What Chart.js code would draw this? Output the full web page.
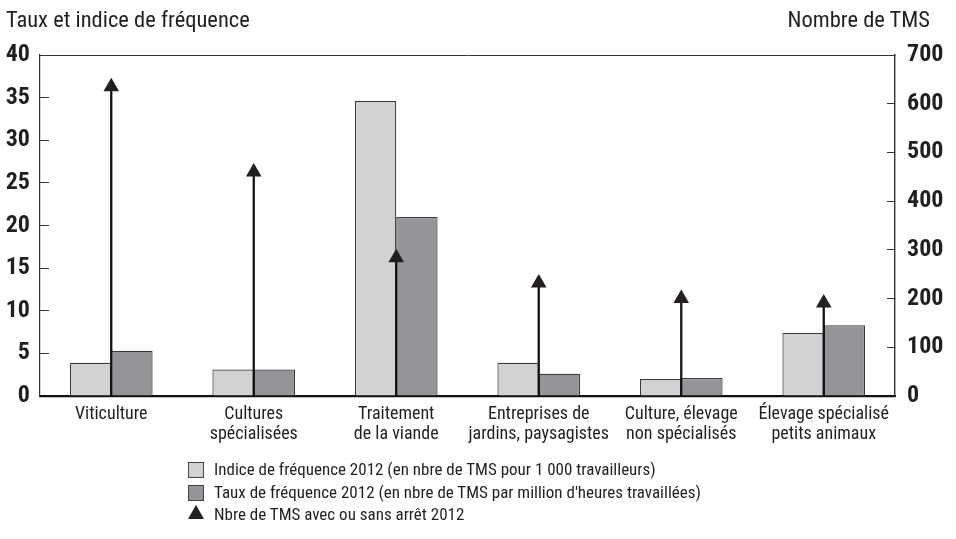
<!DOCTYPE html>
<html>
<head>
<meta charset="utf-8">
<script src="https://cdn.jsdelivr.net/npm/chart.js@4"></script>
<style>
  html, body { margin: 0; padding: 0; background: #fff; }
  #wrap { position: relative; width: 956px; height: 539px; overflow: hidden; }
  canvas { position: absolute; left: 0; top: 0; }
  .txt { position: absolute; font-family: 'Roboto Condensed', 'Liberation Sans', sans-serif; color: #231f20; white-space: nowrap; line-height: 1; }
  .box { position: absolute; width: 16px; height: 16px; box-sizing: border-box; border: 1px solid #444; }
  .tri { position: absolute; width: 0; height: 0; border-left: 8px solid transparent; border-right: 8px solid transparent; border-bottom: 14px solid #231f20; }
</style>
</head>
<body>
<div id="wrap">
  <canvas id="c" width="956" height="539"></canvas>
  <div class="txt" style="left:6px; top:8px; font-size:22.5px;">Taux et indice de fréquence</div>
  <div class="txt" style="right:26px; top:8px; font-size:22.5px;">Nombre de TMS</div>
  <div class="box" style="left:188px; top:462px; background:#d1d2d4;"></div>
  <div class="txt" style="left:214px; top:461px; font-size:17px;" id="lg1"></div>
  <div class="box" style="left:188px; top:485px; background:#939598;"></div>
  <div class="txt" style="left:214px; top:484px; font-size:17px;" id="lg2"></div>
  <div class="tri" style="left:188px; top:505px;"></div>
  <div class="txt" style="left:214px; top:506px; font-size:17px;" id="lg3"></div>
</div>
<script>
// ---- Data ----
const categories = [
  'Viticulture',
  ['Cultures', 'spécialisées'],
  ['Traitement', 'de la viande'],
  ['Entreprises de', 'jardins, paysagistes'],
  ['Culture, élevage', 'non spécialisés'],
  ['Élevage spécialisé', 'petits animaux']
];
const indiceFrequence = [3.9, 3.1, 34.6, 3.9, 2.0, 7.4];
const tauxFrequence = [5.3, 3.1, 21.0, 2.6, 2.1, 8.3];
const nombreTMS = [635, 460, 284, 232, 200, 191];
const leftAxisMax = 40;
const leftAxisStep = 5;
const rightAxisMax = 700;
const rightAxisStep = 100;
const legendLabels = [
  'Indice de fréquence 2012 (en nbre de TMS pour 1 000 travailleurs)',
  "Taux de fréquence 2012 (en nbre de TMS par million d'heures travaillées)",
  'Nbre de TMS avec ou sans arrêt 2012'
];

document.getElementById('lg1').textContent = legendLabels[0];
document.getElementById('lg2').textContent = legendLabels[1];
document.getElementById('lg3').textContent = legendLabels[2];

const FONT = "'Roboto Condensed', 'Liberation Sans', sans-serif";

const topBorder = {
  id: 'topBorder',
  afterDraw(chart) {
    const {ctx, chartArea} = chart;
    ctx.save();
    ctx.strokeStyle = '#333';
    ctx.lineWidth = 1;
    ctx.beginPath();
    ctx.moveTo(chartArea.left, chartArea.top + 0.5);
    ctx.lineTo(chartArea.right, chartArea.top + 0.5);
    ctx.stroke();
    ctx.restore();
  }
};

function build() {
new Chart(document.getElementById('c'), {
  data: {
    labels: categories,
    datasets: [
      {
        type: 'line',
        label: legendLabels[2],
        data: nombreTMS,
        yAxisID: 'y1',
        showLine: false,
        pointStyle: 'triangle',
        pointRadius: 9,
        pointBackgroundColor: '#231f20',
        pointBorderColor: '#231f20',
        pointBorderWidth: 0,
        order: 0
      },
      {
        type: 'bar',
        label: 'stem',
        data: nombreTMS.map(v => [0, v]),
        yAxisID: 'y1',
        grouped: false,
        barThickness: 1.6,
        backgroundColor: '#111',
        borderWidth: 0,
        order: 1
      },
      {
        type: 'bar',
        label: legendLabels[0],
        data: indiceFrequence,
        yAxisID: 'y',
        backgroundColor: '#d1d2d4',
        borderColor: '#3a3a3a',
        borderWidth: 1.2,
        categoryPercentage: 0.58,
        barPercentage: 1.0,
        order: 2
      },
      {
        type: 'bar',
        label: legendLabels[1],
        data: tauxFrequence,
        yAxisID: 'y',
        backgroundColor: '#939598',
        borderColor: '#3a3a3a',
        borderWidth: 1.2,
        categoryPercentage: 0.58,
        barPercentage: 1.0,
        order: 3
      }
    ]
  },
  options: {
    responsive: false,
    animation: false,
    events: [],
    layout: { padding: { top: 55, left: 0, right: 0, bottom: 0 } },
    plugins: { legend: { display: false }, tooltip: { enabled: false } },
    scales: {
      x: {
        type: 'category',
        grid: { display: false, drawTicks: false },
        border: { display: true, color: '#111', width: 2.2 },
        ticks: {
          color: '#231f20',
          font: { family: FONT, size: 18, lineHeight: 1.12 },
          padding: 8,
          maxRotation: 0,
          autoSkip: false
        },
        afterFit(s) { s.height = 143; }
      },
      y: {
        position: 'left',
        min: 0,
        max: leftAxisMax,
        grid: { drawOnChartArea: false, drawTicks: true, tickLength: -9, tickColor: '#333', lineWidth: 1 },
        border: { display: true, color: '#333', width: 1.2 },
        ticks: {
          stepSize: leftAxisStep,
          color: '#231f20',
          font: { family: FONT, size: 24, weight: 'bold' },
          padding: 19
        },
        afterFit(s) { s.width = 40; }
      },
      y1: {
        position: 'right',
        min: 0,
        max: rightAxisMax,
        grid: { drawOnChartArea: false, drawTicks: true, tickLength: -8, tickColor: '#333', lineWidth: 1 },
        border: { display: true, color: '#333', width: 1.4 },
        ticks: {
          stepSize: rightAxisStep,
          color: '#231f20',
          font: { family: FONT, size: 24, weight: 'bold' },
          padding: 20
        },
        afterFit(s) { s.width = 61; }
      }
    }
  },
  plugins: [topBorder]
});
}
if (document.fonts && document.fonts.load) {
  Promise.all([
    document.fonts.load("18px 'Roboto Condensed'"),
    document.fonts.load("bold 24px 'Roboto Condensed'")
  ]).then(build, build);
} else { build(); }
</script>
</body>
</html>
